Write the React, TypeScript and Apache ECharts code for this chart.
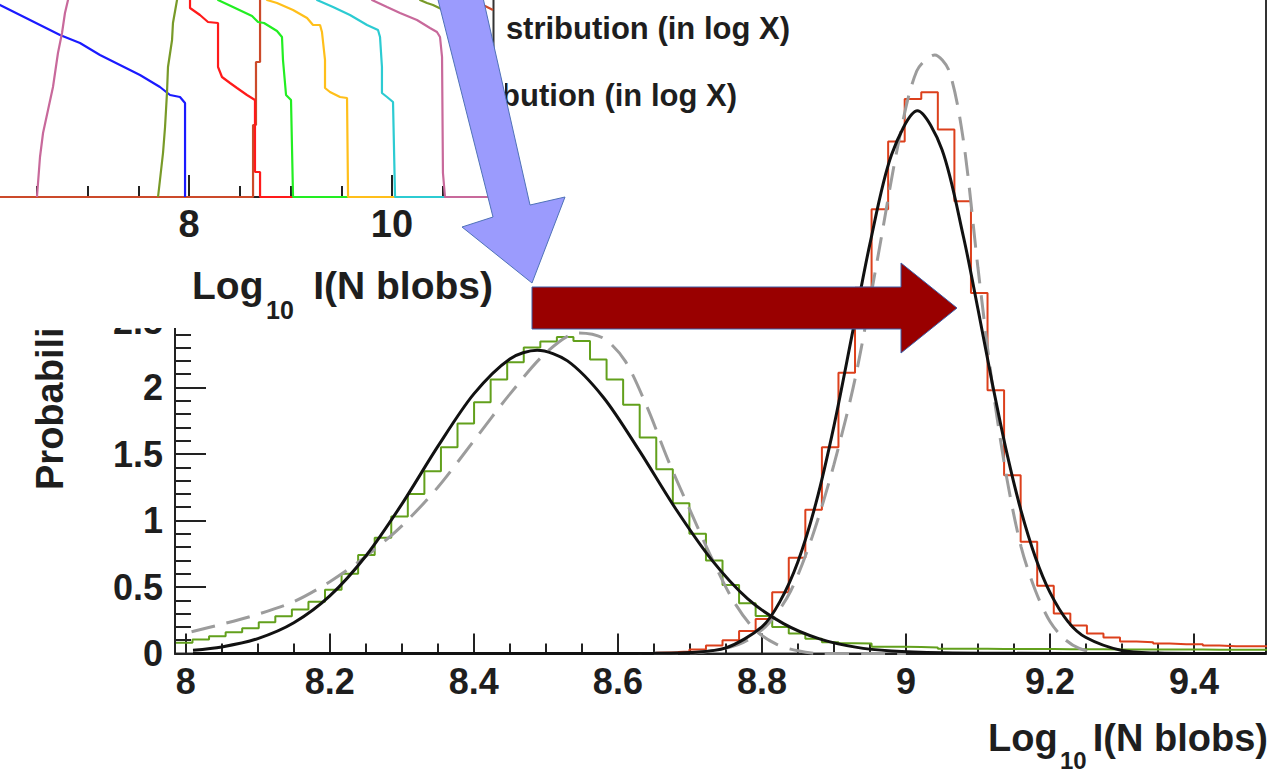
import React, { useEffect, useRef } from "react";
import * as echarts from "echarts";

// ---------------- main panel: axes ----------------
const xMin = 7.985;
const xMax = 9.5;
const yMin = 0;
const yMax = 5;
const yLastShownLabel = 2.5;
const xLabelValues = [8, 8.2, 8.4, 8.6, 8.8, 9, 9.2, 9.4];
const xMinorValues = [8.05, 8.1, 8.15, 8.25, 8.3, 8.35, 8.45, 8.5, 8.55, 8.65, 8.7, 8.75, 8.85, 8.9, 8.95, 9.05, 9.1, 9.15, 9.25, 9.3, 9.35, 9.45, 9.5];

// ---------------- main panel: histograms ----------------
const binWidth = 0.023;
const greenFirstEdge = 7.9863;
const greenCounts = [
  0.08, 0.105, 0.13, 0.16, 0.19, 0.235, 0.28, 0.33, 0.39, 0.48,
  0.6, 0.74, 0.87, 1.03, 1.2, 1.37, 1.55, 1.73, 1.89, 2.06,
  2.19, 2.3, 2.345, 2.38, 2.35, 2.21, 2.06, 1.87, 1.625, 1.385,
  1.13, 0.9, 0.7, 0.515, 0.377, 0.282, 0.2, 0.15, 0.11, 0.085,
  0.077, 0.075, 0.05, 0.05, 0.048, 0.046, 0.036, 0.035, 0.035, 0.034,
  0.034, 0.033, 0.033, 0.032, 0.032, 0.032, 0.031, 0.031, 0.03, 0.03,
  0.03, 0.03, 0.029, 0.029, 0.028, 0.028,
];
const redFirstEdge = 8.6073;
const redCounts = [
  0.003, 0.005, 0.01, 0.015, 0.03, 0.06, 0.1, 0.17, 0.26, 0.46,
  0.72, 1.08, 1.55, 2.11, 2.75, 3.34, 3.85, 4.17, 4.22, 3.94,
  3.4, 2.71, 1.98, 1.34, 0.84, 0.51, 0.3, 0.21, 0.15, 0.12,
  0.09, 0.085, 0.075, 0.07, 0.07, 0.06, 0.055, 0.055, 0.055,
];

// ---------------- main panel: curves ----------------
const blackLeft = [
  [8.01, 0.024], [8.05, 0.049], [8.1, 0.112], [8.15, 0.231], [8.2, 0.433], [8.25, 0.733],
  [8.3, 1.123], [8.35, 1.557], [8.4, 1.952], [8.45, 2.215], [8.488, 2.28], [8.53, 2.2],
  [8.58, 1.925], [8.63, 1.523], [8.68, 1.09], [8.73, 0.706], [8.78, 0.413], [8.83, 0.225],
  [8.88, 0.11], [8.93, 0.048], [8.98, 0.019], [9.05, 0.005], [9.15, 0.001], [9.3, 0], [9.5, 0],
];
const blackRight = [
  [8.01, 0], [8.6, 0], [8.65, 0.001], [8.7, 0.007], [8.75, 0.042], [8.8, 0.2], [8.825, 0.39],
  [8.85, 0.69], [8.875, 1.13], [8.9, 1.71], [8.925, 2.39], [8.95, 3.08], [8.98, 3.75],
  [9.016, 4.08], [9.05, 3.79], [9.08, 3.13], [9.1, 2.59], [9.12, 2.03], [9.14, 1.51],
  [9.16, 1.07], [9.18, 0.72], [9.2, 0.46], [9.225, 0.24], [9.25, 0.12], [9.3, 0.022],
  [9.35, 0.003], [9.4, 0], [9.5, 0],
];
const grayLeft = [
  [8.008, 0.164], [8.05, 0.22], [8.1, 0.295], [8.15, 0.39], [8.2, 0.54], [8.25, 0.73],
  [8.3, 0.96], [8.35, 1.25], [8.4, 1.6], [8.45, 1.95], [8.5, 2.26], [8.545, 2.41],
  [8.58, 2.37], [8.61, 2.2], [8.64, 1.86], [8.67, 1.45], [8.7, 1.08], [8.73, 0.72],
  [8.76, 0.4], [8.79, 0.18], [8.82, 0.07], [8.85, 0.02], [8.88, 0], [9.0, 0],
];
const grayRight = [
  [8.6, 0], [8.7, 0.005], [8.75, 0.04], [8.78, 0.1], [8.81, 0.23], [8.84, 0.47], [8.87, 0.88],
  [8.9, 1.42], [8.93, 2.08], [8.96, 2.95], [8.99, 3.85], [9.015, 4.38], [9.04, 4.5],
  [9.06, 4.38], [9.08, 3.85], [9.1, 2.9], [9.12, 2.02], [9.14, 1.32], [9.16, 0.8],
  [9.18, 0.47], [9.2, 0.24], [9.22, 0.11], [9.24, 0.04], [9.27, 0], [9.35, 0],
];

// ---------------- inset panel ----------------
const insetXMin = 6;
const insetXMax = 11;
const insetYMax = 100;
const insetMajorTicks = [6, 8, 10];
const insetLabels = [8, 10];
const insetMinorTicks = [6.5, 7, 7.5, 8.5, 9, 9.5, 10.5];

const insetOrangeRed = [
  [6.0, 0], [8.631, 0], [8.631, 36], [8.66, 36], [8.66, 67.5], [8.7, 67.5], [8.7, 115],
  [10.78, 115], [10.818, 98.5], [10.897, 96], [10.995, 93.5], [11.0, 93.5],
];
const insetBlue = [
  [6.0, 101], [6.138, 96], [6.335, 91], [6.532, 86], [6.729, 81], [6.926, 77], [7.123, 71],
  [7.32, 66], [7.517, 61], [7.714, 55], [7.813, 51], [7.911, 50], [7.961, 47], [7.961, 0],
];
const insetPinkLeft = [
  [6.502, 0], [6.532, 20], [6.562, 32], [6.611, 43.5], [6.66, 55], [6.709, 72], [6.749, 82],
  [6.778, 92], [6.808, 98.5], [6.84, 105],
];
const insetOlive = [
  [7.695, 0], [7.714, 8.5], [7.744, 22], [7.764, 35], [7.783, 52], [7.793, 65], [7.833, 78.5],
  [7.842, 87], [7.882, 98.5], [7.9, 115], [10.2, 115], [10.276, 98.5], [10.345, 97],
  [10.404, 96], [10.65, 90], [10.897, 82], [10.966, 80], [10.966, 58.5], [11.0, 58.5],
];
const insetRed = [
  [7.99, 115], [8.01, 105], [8.01, 94.5], [8.108, 91], [8.187, 87.5], [8.286, 87], [8.286, 65],
  [8.325, 60], [8.404, 57], [8.473, 54.5], [8.571, 51], [8.65, 48.5], [8.65, 12.5],
  [8.7, 12.5], [8.7, 0], [11.0, 0],
];
const insetGreen = [
  [8.2, 115], [8.286, 98.5], [8.433, 95], [8.621, 90.5], [8.68, 87.5], [8.739, 87],
  [8.867, 83], [8.916, 80], [8.926, 68.5], [8.956, 51], [9.005, 48.5], [9.025, 0], [11.0, 0],
];
const insetYellow = [
  [8.7, 115], [8.768, 98.5], [8.867, 97], [9.025, 93.5], [9.163, 89.5], [9.222, 86],
  [9.291, 86], [9.31, 82.5], [9.34, 68.5], [9.34, 54.5], [9.389, 52.5], [9.488, 50],
  [9.557, 49.5], [9.567, 0], [11.0, 0],
];
const insetCyan = [
  [9.2, 115], [9.261, 98.5], [9.419, 95], [9.586, 91], [9.754, 86], [9.862, 83.5],
  [9.882, 80], [9.901, 65], [9.901, 52], [9.951, 50], [10.01, 47.5], [10.03, 0], [11.0, 0],
];
const insetPinkRight = [
  [9.75, 115], [9.803, 98.5], [9.951, 95], [10.079, 92], [10.246, 88.5], [10.374, 84.5],
  [10.443, 82.5], [10.473, 80], [10.493, 70], [10.502, 12], [10.522, 0], [11.0, 0],
];

// ---------------- styling ----------------
const FONT = '"Liberation Sans", Arial, Helvetica, sans-serif';
const TXT = "#1e1e1e";
const AX = "#222222";

function stepPoints(firstEdge: number, width: number, counts: number[]) {
  const pts: number[][] = counts.map((c, i) => [firstEdge + i * width, c]);
  pts.push([firstEdge + counts.length * width, counts[counts.length - 1]]);
  return pts;
}

function txt(x: number, y: number, text: string, size: number, align: string, extra: any = {}) {
  return {
    type: "text",
    x,
    y,
    ...extra,
    style: {
      text,
      fill: TXT,
      fontFamily: FONT,
      fontWeight: "bold",
      fontSize: size,
      align,
      verticalAlign: "middle",
    },
  };
}

function mainOption() {
  const lbl = { fontFamily: FONT, fontWeight: "bold", fontSize: 36, color: TXT };
  const tickLine = { color: AX, width: 2 };
  const line = (data: any, color: string, width: number, extra: any = {}) => ({
    type: "line",
    data,
    symbol: "none",
    showSymbol: false,
    xAxisIndex: 0,
    yAxisIndex: 0,
    lineStyle: { color, width, ...(extra.lineStyle || {}) },
    ...extra.opts,
  });
  return {
    animation: false,
    backgroundColor: "#ffffff",
    grid: {
      left: 175,
      right: 6,
      top: -11.5,
      bottom: 125.5,
      outerBoundsMode: "none",
      containLabel: false,
      show: true,
      borderColor: "#333",
      borderWidth: 2,
      backgroundColor: "transparent",
    },
    xAxis: [
      {
        type: "value",
        min: xMin,
        max: xMax,
        position: "bottom",
        axisLine: { show: true, onZero: false, lineStyle: { color: AX, width: 2 } },
        axisTick: { show: true, inside: true, length: 20, customValues: xLabelValues, lineStyle: tickLine },
        axisLabel: { show: true, customValues: xLabelValues, margin: 10, ...lbl },
        splitLine: { show: false },
      },
      {
        type: "value",
        min: xMin,
        max: xMax,
        position: "bottom",
        axisLine: { show: false },
        axisTick: { show: true, inside: true, length: 10, customValues: xMinorValues, lineStyle: tickLine },
        axisLabel: { show: false },
        splitLine: { show: false },
      },
    ],
    yAxis: {
      type: "value",
      min: yMin,
      max: yMax,
      interval: 0.5,
      axisLine: { show: true, onZero: false, lineStyle: { color: AX, width: 2 } },
      axisTick: { show: true, inside: true, length: 31, lineStyle: tickLine },
      minorTick: { show: true, splitNumber: 5, length: 16, lineStyle: tickLine },
      axisLabel: {
        margin: 12,
        ...lbl,
        formatter: (v: number) => (v > yLastShownLabel + 1e-9 ? "" : String(v)),
      },
      splitLine: { show: false },
      minorSplitLine: { show: false },
    },
    series: [
      line(stepPoints(greenFirstEdge, binWidth, greenCounts), "#62a01c", 2, { opts: { step: "end" } }),
      line(stepPoints(redFirstEdge, binWidth, redCounts), "#dc401c", 2, { opts: { step: "end" } }),
      line(grayLeft, "#9c9c9c", 3, { lineStyle: { type: [24, 12] }, opts: { smooth: 0.3 } }),
      line(grayRight, "#9c9c9c", 3, { lineStyle: { type: [24, 12] }, opts: { smooth: 0.3 } }),
      line(blackLeft, "#111111", 3, { opts: { smooth: 0.3 } }),
      line(blackRight, "#111111", 3, { opts: { smooth: 0.3 } }),
    ],
    graphic: [
      txt(50, 490, "Probability density", 38, "left", { rotation: Math.PI / 2 }),
      txt(988, 738, "Log", 38, "left"),
      txt(1060, 760, "10", 24, "left"),
      txt(1268, 738, "I(N blobs)", 38, "right"),
      txt(790, 28, "Gaussian distribution (in log X)", 31, "right"),
      txt(737, 95, "Log-normal distribution (in log X)", 31, "right"),
    ],
  };
}

function insetOption() {
  const tickLine = { color: AX, width: 2 };
  const s = (data: any, color: string) => ({
    type: "line",
    data,
    symbol: "none",
    showSymbol: false,
    xAxisIndex: 0,
    lineStyle: { color, width: 2.2 },
  });
  return {
    animation: false,
    backgroundColor: "#ffffff",
    grid: {
      left: -14,
      right: 11.5,
      top: -3,
      bottom: 131,
      outerBoundsMode: "none",
      containLabel: false,
      show: true,
      borderColor: "#333",
      borderWidth: 2,
      backgroundColor: "transparent",
    },
    xAxis: [
      {
        type: "value",
        min: insetXMin,
        max: insetXMax,
        position: "bottom",
        axisLine: { show: true, lineStyle: { color: AX, width: 2 } },
        axisTick: { show: true, inside: true, length: 22, customValues: insetMajorTicks, lineStyle: tickLine },
        axisLabel: {
          show: true,
          customValues: insetLabels,
          margin: 8,
          fontFamily: FONT,
          fontWeight: "bold",
          fontSize: 38,
          color: TXT,
        },
        splitLine: { show: false },
      },
      {
        type: "value",
        min: insetXMin,
        max: insetXMax,
        position: "bottom",
        axisLine: { show: false },
        axisTick: { show: true, inside: true, length: 11, customValues: insetMinorTicks, lineStyle: tickLine },
        axisLabel: { show: false },
        splitLine: { show: false },
      },
    ],
    yAxis: { type: "value", min: 0, max: insetYMax, show: false },
    series: [
      s(insetOrangeRed, "#cc4a2a"),
      s(insetBlue, "#1a1aff"),
      s(insetPinkLeft, "#c8699b"),
      s(insetOlive, "#789a28"),
      s(insetRed, "#ff1a1a"),
      s(insetGreen, "#22ee22"),
      s(insetYellow, "#ffbf1a"),
      s(insetCyan, "#2ccbd2"),
      s(insetPinkRight, "#c8699b"),
    ],
    graphic: [
      txt(192, 285, "Log", 39, "left"),
      txt(266, 310, "10", 25, "left"),
      txt(493, 285, "I(N blobs)", 39, "right"),
    ],
  };
}

function arrowOption() {
  return {
    animation: false,
    graphic: [
      {
        type: "polygon",
        shape: { points: [[433, -20], [479, -20], [530, 205], [565, 197], [532, 283], [462, 227], [493, 217]] },
        style: { fill: "#9b9bfd", stroke: "#4f72b8", lineWidth: 1 },
      },
      {
        type: "polygon",
        shape: { points: [[532, 287], [901, 287], [901, 263], [957, 308], [901, 353], [901, 329], [532, 329]] },
        style: { fill: "#990000", stroke: "#3d5ea8", lineWidth: 1 },
      },
    ],
  };
}

export default function App() {
  const mainRef = useRef<HTMLDivElement>(null);
  const insetRef = useRef<HTMLDivElement>(null);
  const arrowRef = useRef<HTMLDivElement>(null);

  useEffect(() => {
    const main = echarts.init(mainRef.current as HTMLDivElement, null, { renderer: "svg" });
    const inset = echarts.init(insetRef.current as HTMLDivElement, null, { renderer: "svg" });
    const arrows = echarts.init(arrowRef.current as HTMLDivElement, null, { renderer: "svg" });
    main.setOption(mainOption() as any);
    inset.setOption(insetOption() as any);
    arrows.setOption(arrowOption() as any);
    return () => {
      main.dispose();
      inset.dispose();
      arrows.dispose();
    };
  }, []);

  return (
    <div style={{ position: "fixed", left: 0, top: 0, width: 1272, height: 779, background: "#fff", overflow: "hidden" }}>
      <div ref={mainRef} style={{ position: "absolute", left: 0, top: 0, width: 1272, height: 779 }} />
      <div ref={insetRef} style={{ position: "absolute", left: 0, top: 0, width: 505, height: 328, background: "#fff" }} />
      <div ref={arrowRef} style={{ position: "absolute", left: 0, top: 0, width: 1272, height: 779, pointerEvents: "none" }} />
    </div>
  );
}
